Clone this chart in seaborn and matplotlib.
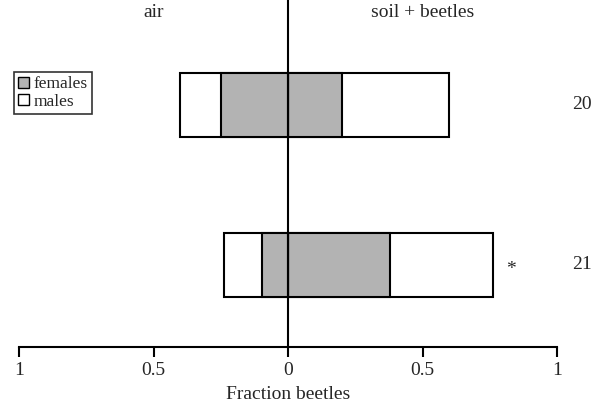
import matplotlib
matplotlib.use("Agg")
import matplotlib.pyplot as plt
from matplotlib.patches import Patch
import seaborn as sns
import numpy as np

# beetle counts per trial (total n shown on the right)
trials = ["20", "21"]
n_total = np.array([20, 21])
air_females = np.array([5, 2])
air_males = np.array([3, 3])
soil_females = np.array([4, 8])
soil_males = np.array([8, 8])
significant = [False, True]

tick_vals = [-1, -0.5, 0, 0.5, 1]
tick_labels = ["1", "0.5", "0", "0.5", "1"]

gray = "#b3b3b3"

sns.set_style("white")
plt.rcParams["font.family"] = ["Liberation Serif", "DejaVu Serif"]

fig = plt.figure(figsize=(6.03, 4.08), dpi=100)
ax = fig.add_axes([19 / 603, 61 / 408, 538 / 603, 347 / 408])

# fractions
air_f = air_females / n_total
air_tot = (air_females + air_males) / n_total
soil_f = soil_females / n_total
soil_tot = (soil_females + soil_males) / n_total

kw = dict(orient="h", order=trials, edgecolor="black", linewidth=1.5,
          width=0.4, saturation=1, errorbar=None, ax=ax)
sns.barplot(x=soil_tot, y=trials, color="white", **kw)
sns.barplot(x=soil_f, y=trials, color=gray, **kw)
sns.barplot(x=-air_tot, y=trials, color="white", **kw)
sns.barplot(x=-air_f, y=trials, color=gray, **kw)

ax.axvline(0, color="black", lw=1.5, zorder=5)

ax.set_xlim(-1, 1)
ax.set_ylim(1.5125, -0.656)
ax.set_xticks(tick_vals)
ax.set_xticklabels(tick_labels, fontsize=14)
ax.set_yticks([])
ax.set_ylabel("")
ax.set_xlabel("Fraction beetles", fontsize=14, labelpad=5)
ax.tick_params(axis="x", direction="out", length=7, width=1.5, color="black",
               bottom=True, pad=4)
for s in ["top", "right", "left"]:
    ax.spines[s].set_visible(False)
ax.spines["bottom"].set_linewidth(1.5)
ax.spines["bottom"].set_color("black")

# side headers
ax.text(-0.5, 0.965, "air", transform=ax.get_xaxis_transform(),
        ha="center", va="center", fontsize=14)
ax.text(0.5, 0.965, "soil + beetles", transform=ax.get_xaxis_transform(),
        ha="center", va="center", fontsize=14)

# n labels and significance marks
for i, n in enumerate(n_total):
    ax.text(1.093, i, str(n), ha="center", va="center", fontsize=14, clip_on=False)
    if significant[i]:
        ax.text(soil_tot[i] + 0.065, i + 0.03, "*", ha="center", va="center", fontsize=14)

handles = [Patch(facecolor=gray, edgecolor="black", lw=1, label="females"),
           Patch(facecolor="white", edgecolor="black", lw=1, label="males")]
leg = ax.legend(handles=handles, loc="upper left",
                bbox_to_anchor=(14 / 603, 1 - 72 / 408),
                bbox_transform=fig.transFigure, borderaxespad=0,
                fontsize=12.5, frameon=True, fancybox=False,
                handlelength=0.6, handleheight=0.6, handletextpad=0.3,
                labelspacing=0.1, borderpad=0.25)
leg.get_frame().set_edgecolor("black")
leg.get_frame().set_linewidth(1.2)

fig.savefig("out.png", dpi=100)
